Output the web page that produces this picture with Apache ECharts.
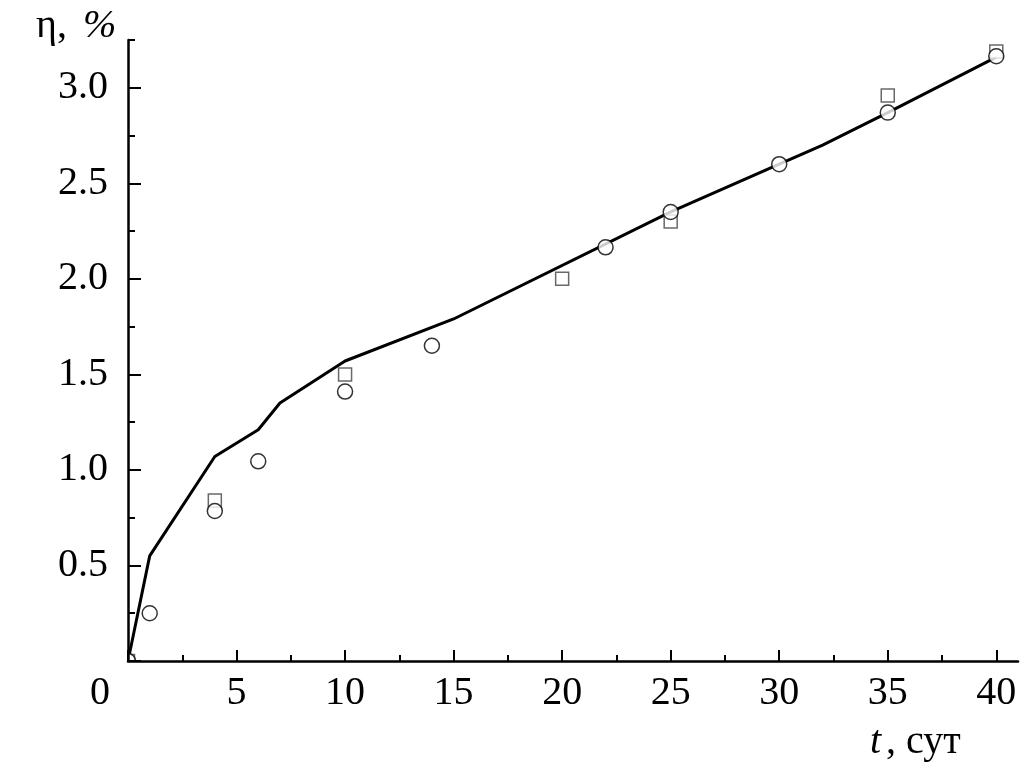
<!DOCTYPE html>
<html>
<head>
<meta charset="utf-8">
<script src="https://cdn.jsdelivr.net/npm/echarts@6/dist/echarts.min.js"></script>
<style>
html,body{margin:0;padding:0;background:#fff;}
#chart{width:1020px;height:768px;}
</style>
</head>
<body>
<div id="chart"></div>
<script>
// Fitted curve (line)
const lineT   = [0, 1, 4, 6, 7, 10, 15, 25, 30, 32, 35, 40];
const lineEta = [0, 0.55, 1.07, 1.21, 1.35, 1.57, 1.79, 2.35, 2.60, 2.70, 2.87, 3.16];
// Experimental points: squares
const sqT   = [0, 4, 10, 20, 25, 35, 40];
const sqEta = [0, 0.84, 1.50, 2.00, 2.30, 2.96, 3.19];
// Experimental points: circles
const ciT   = [0, 1, 4, 6, 10, 14, 22, 25, 30, 35, 40];
const ciEta = [0, 0.25, 0.785, 1.045, 1.41, 1.65, 2.165, 2.35, 2.60, 2.87, 3.165];
// Ticks
const xMajor = [0, 5, 10, 15, 20, 25, 30, 35, 40];
const xMinor = [2.5, 7.5, 12.5, 17.5, 22.5, 27.5, 32.5, 37.5];
const yMajor = [0, 0.5, 1.0, 1.5, 2.0, 2.5, 3.0];
const yLabels = [0.5, 1.0, 1.5, 2.0, 2.5, 3.0];
const yMinor = [0.25, 0.75, 1.25, 1.75, 2.25, 2.75, 3.25];
const yNameVar = 'η, ';
const yNameUnit = '%';
const xNameVar = 't';
const xNameUnit = ', сут';

const zip = (a, b) => a.map((v, i) => [v, b[i]]);
const FONT = '"Liberation Serif", "Times New Roman", serif';

const chart = echarts.init(document.getElementById('chart'), null, {renderer: 'canvas'});
const baseX = {
  type: 'value', min: 0, max: 41, position: 'bottom',
  splitLine: {show: false},
  axisLine: {onZero: false}
};
const baseY = {
  type: 'value', min: 0, max: 3.25, position: 'left',
  splitLine: {show: false},
  axisLine: {onZero: false}
};
chart.setOption({
  animation: false,
  backgroundColor: '#fff',
  grid: {left: 128, top: 40, width: 890, height: 621, containLabel: false},
  xAxis: [
    Object.assign({}, baseX, {
      z: 5,
      axisLine: {show: true, onZero: false, lineStyle: {color: '#000', width: 2.5}},
      axisTick: {show: true, inside: true, length: 11, customValues: xMajor, lineStyle: {color: '#000', width: 2}},
      axisLabel: {
        show: true, customValues: xMajor, margin: 12,
        color: '#000', fontFamily: FONT, fontSize: 40,
        formatter: v => v === 0 ? '{o|0}' : String(v),
        rich: {o: {fontFamily: FONT, fontSize: 40, color: '#000', padding: [0, 56, 0, 0]}}
      }
    }),
    Object.assign({}, baseX, {
      z: 5,
      axisLine: {show: false, onZero: false},
      axisTick: {show: true, inside: true, length: 6, customValues: xMinor, lineStyle: {color: '#000', width: 2}},
      axisLabel: {show: false}
    })
  ],
  yAxis: [
    Object.assign({}, baseY, {
      z: 5,
      axisLine: {show: true, onZero: false, lineStyle: {color: '#000', width: 2.5}},
      axisTick: {show: true, inside: true, length: 13, customValues: yMajor, lineStyle: {color: '#000', width: 2}},
      axisLabel: {
        show: true, customValues: yLabels, margin: 20,
        color: '#000', fontFamily: FONT, fontSize: 40,
        formatter: v => v.toFixed(1)
      }
    }),
    Object.assign({}, baseY, {
      z: 5,
      axisLine: {show: false, onZero: false},
      axisTick: {show: true, inside: true, length: 7, customValues: yMinor, lineStyle: {color: '#000', width: 2}},
      axisLabel: {show: false}
    })
  ],
  graphic: [
    // white masks so that markers at the origin are clipped to the plot area
    {type: 'rect', z: 4.5, shape: {x: 100, y: 661, width: 60, height: 12}, style: {fill: '#fff'}},
    {type: 'rect', z: 4.5, shape: {x: 112, y: 630, width: 16, height: 43}, style: {fill: '#fff'}},
    {
      type: 'text', left: 36, top: 6, z: 6,
      style: {
        text: '{n|' + yNameVar + '}{i|' + yNameUnit + '}',
        rich: {
          n: {fontFamily: FONT, fontSize: 40, color: '#000', padding: [0, 6, 0, 0]},
          i: {fontFamily: FONT, fontSize: 40, fontStyle: 'italic', color: '#000'}
        }
      }
    },
    {
      type: 'text', left: 870, top: 722, z: 6,
      style: {
        text: '{i|' + xNameVar + '}{n|' + xNameUnit + '}',
        rich: {
          i: {fontFamily: FONT, fontSize: 40, fontStyle: 'italic', color: '#000', padding: [0, 5, 0, 0]},
          n: {fontFamily: FONT, fontSize: 40, color: '#000'}
        }
      }
    }
  ],
  series: [
    {
      type: 'line', xAxisIndex: 0, yAxisIndex: 0,
      data: zip(lineT, lineEta),
      showSymbol: false, symbol: 'none',
      lineStyle: {color: '#000', width: 3},
      z: 2
    },
    {
      type: 'scatter', xAxisIndex: 0, yAxisIndex: 0,
      data: zip(sqT, sqEta),
      symbol: 'rect', symbolSize: 13,
      itemStyle: {color: '#fff', borderColor: '#444', borderWidth: 1.5},
      z: 3
    },
    {
      type: 'scatter', xAxisIndex: 0, yAxisIndex: 0,
      data: zip(ciT, ciEta),
      symbol: 'circle', symbolSize: 15,
      itemStyle: {color: '#fff', borderColor: '#000', borderWidth: 1.5},
      z: 4
    }
  ]
});
</script>
</body>
</html>
